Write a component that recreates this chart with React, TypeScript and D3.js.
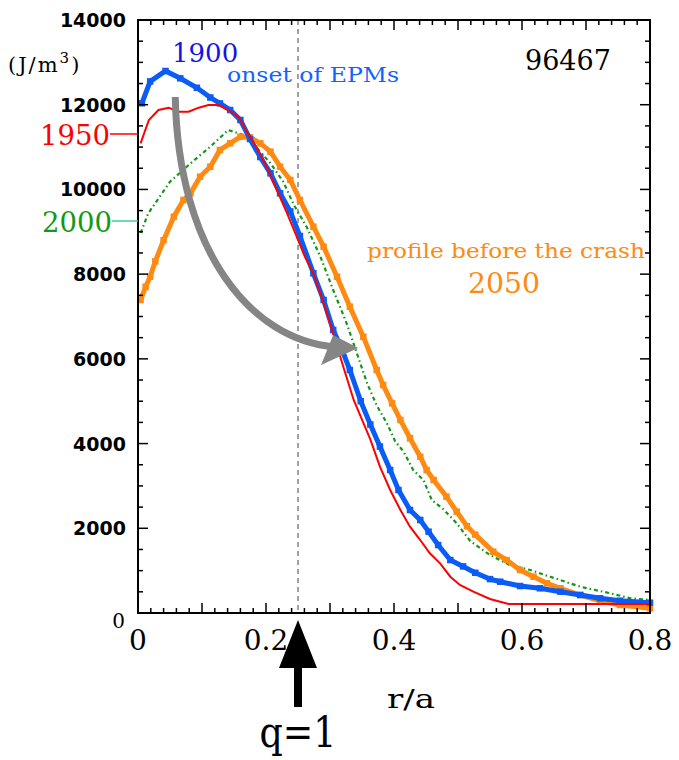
import React from "react";
import * as d3 from "d3";

// ---- data (r/a, energy density J/m^3) ----
const blueR = [0.006, 0.019, 0.043, 0.066, 0.092, 0.113, 0.128, 0.144, 0.16, 0.175, 0.191, 0.207, 0.222, 0.238, 0.253, 0.274, 0.29, 0.305, 0.319, 0.331, 0.348, 0.363, 0.378, 0.394, 0.407, 0.425, 0.441, 0.454, 0.469, 0.488, 0.508, 0.527, 0.55, 0.566, 0.597, 0.628, 0.66, 0.691, 0.722, 0.753, 0.8];
const blueV = [12034, 12550, 12796, 12623, 12400, 12170, 12030, 11875, 11639, 11190, 10765, 10380, 9908, 9480, 8900, 8020, 7390, 6681, 6209, 5737, 5000, 4450, 3930, 3376, 2904, 2432, 2196, 1920, 1605, 1251, 1100, 950, 800, 739, 637, 583, 503, 425, 347, 290, 243];

const redR = [0.004, 0.017, 0.032, 0.048, 0.063, 0.079, 0.095, 0.11, 0.126, 0.141, 0.157, 0.17, 0.186, 0.201, 0.217, 0.233, 0.248, 0.261, 0.274, 0.29, 0.305, 0.321, 0.337, 0.348, 0.363, 0.378, 0.394, 0.41, 0.425, 0.441, 0.456, 0.472, 0.488, 0.503, 0.524, 0.55, 0.579, 0.8];
const redV = [11089, 11639, 11875, 11930, 11835, 11835, 11930, 11993, 11993, 11875, 11717, 11363, 10970, 10537, 9987, 9436, 8884, 8400, 8020, 7312, 6600, 5800, 5029, 4636, 4100, 3454, 2904, 2432, 2039, 1723, 1409, 1173, 857, 661, 503, 330, 212, 212];

const greenR = [0.004, 0.016, 0.05, 0.082, 0.113, 0.141, 0.165, 0.186, 0.207, 0.227, 0.243, 0.264, 0.285, 0.305, 0.326, 0.342, 0.358, 0.373, 0.389, 0.402, 0.415, 0.43, 0.446, 0.459, 0.477, 0.498, 0.519, 0.55, 0.581, 0.613, 0.644, 0.691, 0.738, 0.769, 0.8];
const greenV = [8971, 9436, 10183, 10616, 11009, 11403, 11285, 10970, 10617, 10180, 9650, 9100, 8412, 7626, 6839, 6131, 5423, 4900, 4478, 4050, 3808, 3376, 3140, 2668, 2450, 2118, 1700, 1369, 1133, 1015, 857, 621, 465, 347, 307];

const orangeR = [0.004, 0.012, 0.019, 0.027, 0.04, 0.056, 0.071, 0.082, 0.097, 0.113, 0.128, 0.144, 0.16, 0.175, 0.191, 0.207, 0.222, 0.238, 0.253, 0.274, 0.29, 0.311, 0.331, 0.352, 0.373, 0.383, 0.397, 0.41, 0.425, 0.441, 0.451, 0.462, 0.482, 0.498, 0.514, 0.527, 0.555, 0.576, 0.597, 0.618, 0.639, 0.66, 0.691, 0.722, 0.753, 0.8];
const orangeV = [7390, 7704, 7940, 8300, 8800, 9356, 9750, 9908, 10301, 10537, 10931, 11089, 11245, 11230, 11089, 10891, 10537, 10223, 9750, 9120, 8648, 7940, 7232, 6524, 5737, 5383, 4950, 4557, 4125, 3690, 3376, 3140, 2746, 2392, 2050, 1850, 1448, 1251, 1015, 857, 701, 583, 425, 290, 189, 110];

const xTickLabels = [0, 0.2, 0.4, 0.6, 0.8];
const yTickLabels = [2000, 4000, 6000, 8000, 10000, 12000, 14000];
const qOneR = 0.25;

// grey evolution arrow (data space): start, control1, control2, end; head tip, head corners
const evoArrowR = [0.0582, 0.063, 0.175, 0.308];
const evoArrowV = [12182, 8570, 6445, 6280];
const evoHeadR = [0.344, 0.305, 0.286];
const evoHeadV = [6256, 6563, 5855];

const W = 679, H = 760;
const left = 138, right = 650, top = 20, bottom = 613;

export default function App() {
  const x = d3.scaleLinear().domain([0, 0.8]).range([left, right]);
  const y = d3.scaleLinear().domain([0, 14000]).range([bottom, top]);

  const mk = (rs: number[], vs: number[]) => rs.map((r, i) => [r, vs[i]] as [number, number]);
  const line = d3.line<[number, number]>().x(d => x(d[0])).y(d => y(d[1]));

  const blue = mk(blueR, blueV);
  const red = mk(redR, redV);
  const green = mk(greenR, greenV);
  const orange = mk(orangeR, orangeV);

  const xMinor = d3.range(0, 0.8001, 0.02);
  const xMajor = d3.range(0, 0.8001, 0.1);
  const yMinor = d3.range(0, 14001, 500);

  const blueC = "#0a5cf5";
  const orangeC = "#ff8a12";

  const p = d3.path();
  p.moveTo(x(evoArrowR[0]), y(evoArrowV[0]));
  p.bezierCurveTo(x(evoArrowR[1]), y(evoArrowV[1]), x(evoArrowR[2]), y(evoArrowV[2]), x(evoArrowR[3]), y(evoArrowV[3]));
  const head = evoHeadR.map((r, i) => `${x(r)},${y(evoHeadV[i])}`).join(" ");

  const qx = x(qOneR);
  const sq = 6.5;

  return (
    <svg width={W} height={H} style={{ position: "absolute", left: 0, top: 0, background: "#fff" }}>
      {/* dashed q=1 line */}
      <line x1={qx} x2={qx} y1={top} y2={bottom} stroke="#444" strokeWidth={1} strokeDasharray="5,4" />

      {/* curves */}
      <path d={line(green) || ""} fill="none" stroke="#15961a" strokeWidth={2.2} strokeDasharray="4,3,1.5,3" />
      <path d={line(orange) || ""} fill="none" stroke={orangeC} strokeWidth={5} />
      {orange.map((d, i) => (
        <rect key={"o" + i} x={x(d[0]) - sq / 2} y={y(d[1]) - sq / 2} width={sq} height={sq} fill={orangeC} />
      ))}
      <path d={line(blue) || ""} fill="none" stroke={blueC} strokeWidth={5} />
      {blue.map((d, i) => (
        <rect key={"b" + i} x={x(d[0]) - sq / 2} y={y(d[1]) - sq / 2} width={sq} height={sq} fill={blueC} />
      ))}
      <path d={line(red) || ""} fill="none" stroke="#ff0000" strokeWidth={2} />

      {/* grey evolution arrow */}
      <path d={p.toString()} fill="none" stroke="#858585" strokeWidth={7} />
      <polygon points={head} fill="#858585" />

      {/* frame */}
      <rect x={left} y={top} width={right - left} height={bottom - top} fill="none" stroke="#000" strokeWidth={2} />
      {xMinor.map((t, i) => {
        const major = xMajor.some(m => Math.abs(m - t) < 1e-6);
        const L = major ? 10 : 5;
        return (
          <g key={"xt" + i}>
            <line x1={x(t)} x2={x(t)} y1={bottom} y2={bottom - L} stroke="#000" strokeWidth={1.5} />
            <line x1={x(t)} x2={x(t)} y1={top} y2={top + L} stroke="#000" strokeWidth={1.5} />
          </g>
        );
      })}
      {yMinor.map((t, i) => {
        const L = t % 2000 === 0 ? 10 : 5;
        return (
          <g key={"yt" + i}>
            <line x1={left} x2={left + L} y1={y(t)} y2={y(t)} stroke="#000" strokeWidth={1.5} />
            <line x1={right} x2={right - L} y1={y(t)} y2={y(t)} stroke="#000" strokeWidth={1.5} />
          </g>
        );
      })}

      {/* y tick labels */}
      {yTickLabels.map(t => (
        <text key={"yl" + t} x={126} y={y(t) + 7} textAnchor="end" fontFamily="DejaVu Sans" fontWeight="bold" fontSize={19} fill="#000">
          {t}
        </text>
      ))}
      <text x={125} y={628} textAnchor="end" fontFamily="DejaVu Serif" fontSize={20} fill="#000">0</text>

      {/* x tick labels */}
      {xTickLabels.map(t => (
        <text key={"xl" + t} x={x(t)} y={650} textAnchor="middle" fontFamily="DejaVu Serif" fontSize={28} fill="#000">
          {t === 0 ? "0" : String(t)}
        </text>
      ))}
      <text x={411} y={708} textAnchor="middle" fontFamily="DejaVu Serif" fontSize={26} fill="#000" textLength={48} lengthAdjust="spacingAndGlyphs">r/a</text>

      {/* unit */}
      <text x={8} y={72} fontFamily="DejaVu Serif" fontSize={21} fill="#000" letterSpacing={2}>
        (J/m<tspan fontSize={15} dy={-9}>3</tspan><tspan dy={9}>)</tspan>
      </text>

      {/* q=1 arrow */}
      <polygon points={`${qx},620 ${qx - 19},668 ${qx + 19},668`} fill="#000" />
      <rect x={qx - 4} y={666} width={8} height={41} fill="#000" />
      <text x={qx} y={747} textAnchor="middle" fontFamily="DejaVu Serif" fontSize={42} fill="#000" textLength={77} lengthAdjust="spacingAndGlyphs">q=1</text>

      {/* annotations */}
      <text x={172} y={62} fontFamily="DejaVu Serif" fontSize={26} fill="#1414e6">1900</text>
      <text x={227} y={82} fontFamily="DejaVu Serif" fontSize={20} fill="#1262ff" textLength={172} lengthAdjust="spacingAndGlyphs">onset of EPMs</text>
      <text x={525} y={70} fontFamily="DejaVu Serif" fontSize={27} fill="#000">96467</text>

      <text x={40} y={145} fontFamily="DejaVu Serif" fontSize={27} fill="#ff0000" textLength={70} lengthAdjust="spacingAndGlyphs">1950</text>
      <line x1={110} x2={left} y1={134} y2={134} stroke="#ff0000" strokeWidth={1.5} />
      <text x={42} y={232} fontFamily="DejaVu Serif" fontSize={27} fill="#139a13" textLength={70} lengthAdjust="spacingAndGlyphs">2000</text>
      <line x1={112} x2={left} y1={221} y2={221} stroke="#3fcf90" strokeWidth={1.5} />

      <text x={367} y={258} fontFamily="DejaVu Serif" fontSize={21} fill={orangeC} textLength={278} lengthAdjust="spacingAndGlyphs">profile before the crash</text>
      <text x={468} y={293} fontFamily="DejaVu Serif" fontSize={27} fill={orangeC} textLength={72} lengthAdjust="spacingAndGlyphs">2050</text>
    </svg>
  );
}
